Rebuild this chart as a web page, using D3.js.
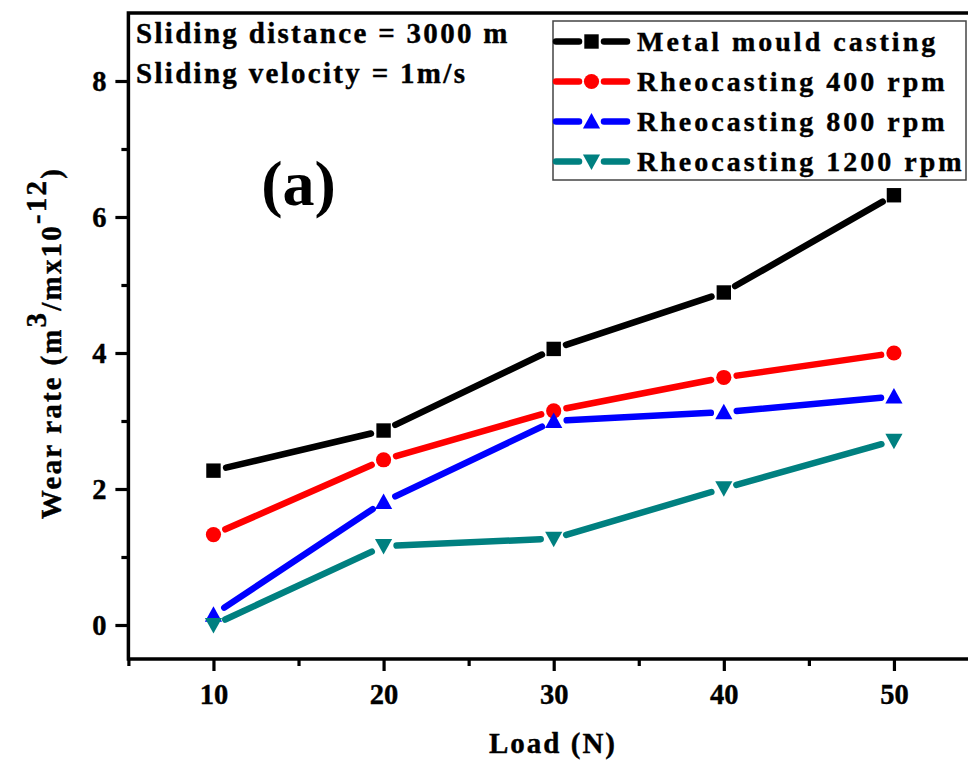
<!DOCTYPE html>
<html>
<head>
<meta charset="utf-8">
<script src="https://cdn.jsdelivr.net/npm/d3@7"></script>
<style>
  html, body { margin: 0; padding: 0; background: #fff; }
  svg { display: block; font-family: "Liberation Serif", "Times New Roman", serif; font-weight: bold; }
</style>
</head>
<body>
<svg id="chart" width="968" height="760"></svg>
<script>
// Wear rate vs applied load for each casting route
const loads = [10, 20, 30, 40, 50];
const metalMould = [2.27, 2.86, 4.06, 4.89, 6.32];
const rheo400 = [1.33, 2.43, 3.15, 3.64, 4.00];
const rheo800 = [0.15, 1.81, 3.00, 3.13, 3.36];
const rheo1200 = [0.00, 1.16, 1.27, 2.01, 2.71];

const seriesNames = ["Metal mould casting", "Rheocasting 400 rpm", "Rheocasting 800 rpm", "Rheocasting 1200 rpm"];
const seriesColors = ["#000000", "#ff0000", "#0000ff", "#008080"];
const seriesSymbols = ["square", "circle", "up", "down"];
const seriesValues = [metalMould, rheo400, rheo800, rheo1200];

const xMajorTicks = [10, 20, 30, 40, 50];
const xMinorTicks = [5, 15, 25, 35, 45];
const yMajorTicks = [0, 2, 4, 6, 8];
const yMinorTicks = [1, 3, 5, 7];

const svg = d3.select("#chart");

const x = d3.scaleLinear().domain([5, 55]).range([128.4, 979]);
const y = d3.scaleLinear().domain([-0.5, 9]).range([659, 13]);

const axisStroke = 3.5;

// Axes: major and minor ticks pointing outward
const gx = svg.append("g").attr("transform", `translate(0,${y(-0.5)})`);
gx.call(d3.axisBottom(x).tickValues(xMinorTicks).tickSize(7).tickSizeOuter(0).tickFormat(""));
gx.call(g => g.selectAll(".domain").remove());
const gx2 = svg.append("g").attr("transform", `translate(0,${y(-0.5)})`);
gx2.call(d3.axisBottom(x).tickValues(xMajorTicks).tickSize(12).tickSizeOuter(0).tickPadding(13).tickFormat(d3.format("d")));
gx2.select(".domain").remove();

const gy = svg.append("g").attr("transform", `translate(${x(5)},0)`);
gy.call(d3.axisLeft(y).tickValues(yMinorTicks).tickSize(7).tickSizeOuter(0).tickFormat(""));
gy.call(g => g.selectAll(".domain").remove());
const gy2 = svg.append("g").attr("transform", `translate(${x(5)},0)`);
gy2.call(d3.axisLeft(y).tickValues(yMajorTicks).tickSize(13).tickSizeOuter(0).tickPadding(9).tickFormat(d3.format("d")));
gy2.select(".domain").remove();

svg.selectAll(".tick line").attr("stroke", "#000").attr("stroke-width", 3.2);
svg.selectAll(".tick text")
  .attr("fill", "#000")
  .style("font-family", "'Liberation Serif', 'Times New Roman', serif")
  .style("font-weight", "bold")
  .style("font-size", "28.5px")
  .attr("stroke", "#000").attr("stroke-width", 0.4);
gy2.selectAll(".tick text").attr("dy", "0.34em");

// Plot frame
svg.append("rect")
  .attr("x", x(5)).attr("y", y(9))
  .attr("width", x(55) - x(5)).attr("height", y(-0.5) - y(9))
  .attr("fill", "none").attr("stroke", "#000").attr("stroke-width", axisStroke);

// Marker shapes
function symbolPath(kind) {
  if (kind === "square") return "M-7.2,-7.2H7.2V7.2H-7.2Z";
  if (kind === "circle") return d3.symbol(d3.symbolCircle, Math.PI * 7.6 * 7.6)();
  if (kind === "up") return "M0,-8.5L8.6,7L-8.6,7Z";
  return "M0,8.5L8.6,-7L-8.6,-7Z";
}

const lineWidth = 6.5;
const gapFromCenter = 13;

const plot = svg.append("g");
seriesValues.forEach((vals, si) => {
  const pts = loads.map((l, i) => [x(l), y(vals[i])]);
  const g = plot.append("g");
  // connecting segments, trimmed back from each marker
  for (let i = 0; i < pts.length - 1; i++) {
    const [x0, y0] = pts[i], [x1, y1] = pts[i + 1];
    const len = Math.hypot(x1 - x0, y1 - y0);
    const ux = (x1 - x0) / len, uy = (y1 - y0) / len;
    g.append("line")
      .attr("x1", x0 + ux * gapFromCenter).attr("y1", y0 + uy * gapFromCenter)
      .attr("x2", x1 - ux * gapFromCenter).attr("y2", y1 - uy * gapFromCenter)
      .attr("stroke", seriesColors[si]).attr("stroke-width", lineWidth)
      .attr("stroke-linecap", "round");
  }
  g.selectAll("path.marker").data(pts).join("path")
    .attr("class", "marker")
    .attr("transform", d => `translate(${d[0]},${d[1]})`)
    .attr("d", symbolPath(seriesSymbols[si]))
    .attr("fill", seriesColors[si]);
});

// Test conditions and panel label
const notes = ["Sliding distance = 3000 m", "Sliding velocity = 1m/s"];
svg.selectAll("text.note").data(notes).join("text")
  .attr("class", "note")
  .attr("x", 136).attr("y", (d, i) => 43 + i * 39.5)
  .attr("font-size", 29).attr("letter-spacing", 2.3)
  .attr("stroke", "#000").attr("stroke-width", 0.4)
  .text(d => d);

svg.append("text")
  .attr("x", 298.5).attr("y", 205)
  .attr("text-anchor", "middle")
  .attr("font-size", 64)
  .text("(a)");

// Legend
const legend = svg.append("g");
legend.append("rect")
  .attr("x", 553).attr("y", 21).attr("width", 413).attr("height", 159)
  .attr("fill", "#fff").attr("stroke", "#444").attr("stroke-width", 1.5);
seriesNames.forEach((name, i) => {
  const cy = 41.5 + i * 40;
  const row = legend.append("g");
  row.append("line").attr("x1", 556).attr("x2", 579).attr("y1", cy).attr("y2", cy)
    .attr("stroke", seriesColors[i]).attr("stroke-width", lineWidth).attr("stroke-linecap", "round");
  row.append("line").attr("x1", 604).attr("x2", 627).attr("y1", cy).attr("y2", cy)
    .attr("stroke", seriesColors[i]).attr("stroke-width", lineWidth).attr("stroke-linecap", "round");
  row.append("path")
    .attr("transform", `translate(591.5,${cy})`)
    .attr("d", symbolPath(seriesSymbols[i]))
    .attr("fill", seriesColors[i]);
  row.append("text")
    .attr("x", 637).attr("y", cy + 9.5)
    .attr("font-size", 28).attr("letter-spacing", 3.0)
    .attr("stroke", "#000").attr("stroke-width", 0.4)
    .text(name);
});

// Axis titles
svg.append("text")
  .attr("x", 553).attr("y", 753)
  .attr("text-anchor", "middle")
  .attr("font-size", 29).attr("letter-spacing", 2.0)
  .attr("stroke", "#000").attr("stroke-width", 0.4)
  .text("Load (N)");

const yTitle = svg.append("text")
  .attr("transform", "translate(61,343) rotate(-90)")
  .attr("text-anchor", "middle")
  .attr("font-size", 29).attr("letter-spacing", 2.2)
  .attr("stroke", "#000").attr("stroke-width", 0.4);
yTitle.append("tspan").text("Wear rate (m");
yTitle.append("tspan").attr("dy", -15).text("3");
yTitle.append("tspan").attr("dy", 15).text("/mx10");
yTitle.append("tspan").attr("dy", -15).text("-12");
yTitle.append("tspan").attr("dy", 15).text(")");
</script>
</body>
</html>
